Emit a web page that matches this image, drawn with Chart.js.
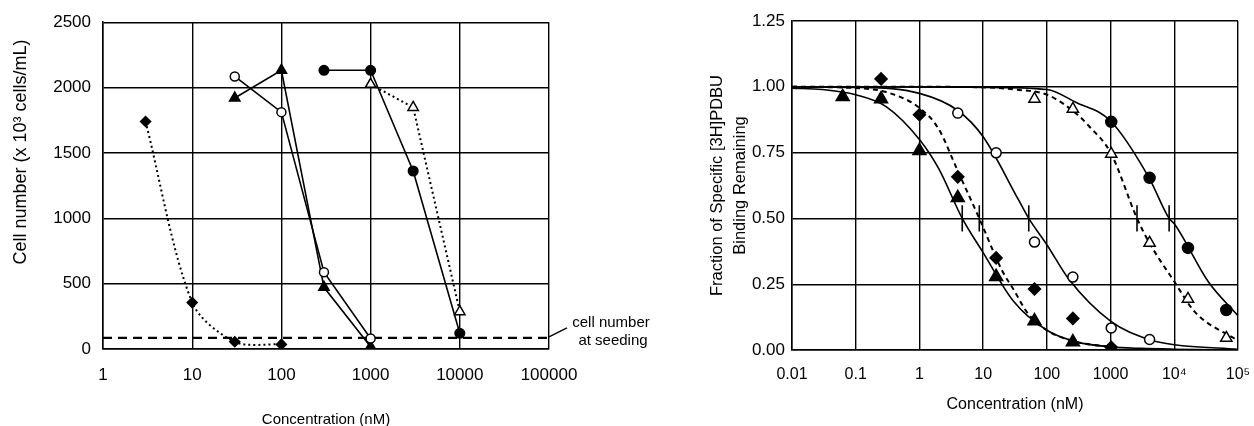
<!DOCTYPE html>
<html>
<head>
<meta charset="utf-8">
<script src="https://cdn.jsdelivr.net/npm/chart.js@4.4.1/dist/chart.umd.min.js"></script>
<style>
    html, body { margin: 0; padding: 0; background: #fff; }
    body { width: 1254px; height: 426px; position: relative; overflow: hidden; }
    .box { position: absolute; top: 0; height: 426px; }
    #box-left { left: 0; width: 660px; }
    #box-right { left: 660px; width: 594px; }
</style>
</head>
<body>
<div class="box" id="box-left"><canvas id="chart-left" width="660" height="426"></canvas></div>
<div class="box" id="box-right"><canvas id="chart-right" width="594" height="426"></canvas></div>
<script>
// ---- left panel: cell number (x 10^3 cells/mL) vs concentration (nM)
const leftTicksX = [1, 10, 100, 1000, 10000, 100000];
const seedingLevel = 85;

const diamondConc = [3, 10, 30, 100];
const diamondCells = [1740, 355, 55, 35];

const openCircleConc = [30, 100, 300, 1000];
const openCircleCells = [2085, 1812, 587, 80];

const filledTriConc = [30, 100, 300, 1000];
const filledTriCells = [1920, 2132, 472, 18];

const filledCircleConc = [300, 1000, 3000, 10000];
const filledCircleCells = [2132, 2132, 1362, 120];

const openTriConc = [1000, 3000, 10000];
const openTriCells = [2025, 1848, 285];

// ---- right panel: fraction of specific [3H]PDBU binding remaining
const rightTicksX = [0.01, 0.1, 1, 10, 100, 1000, 10000, 100000];
const rightTickLabels = ['0.01', '0.1', '1', '10', '100', '1000', '10⁴', '10⁵'];
const ic50Conc = [4.7, 8.7, 52, 2600, 8300];

// measured points
const bTriConc = [0.0625, 0.25, 1, 4, 16, 64, 256];
const bTriFrac = [0.962, 0.954, 0.757, 0.578, 0.278, 0.11, 0.03];

const bDiaConc = [0.25, 1, 4, 16, 64, 256, 1024];
const bDiaFrac = [1.03, 0.894, 0.658, 0.35, 0.232, 0.12, 0.01];

const bOpenCircConc = [4, 16, 64, 256, 1024, 4096];
const bOpenCircFrac = [0.90, 0.749, 0.41, 0.277, 0.084, 0.04];

const bOpenTriConc = [64, 256, 1024, 4096, 16384, 65536];
const bOpenTriFrac = [0.954, 0.916, 0.745, 0.407, 0.194, 0.046];

const bFillCircConc = [1024, 4096, 16384, 65536];
const bFillCircFrac = [0.867, 0.654, 0.388, 0.152];

// fitted curves
const fitTriConc = [0.01, 0.03, 0.1, 0.3, 1, 2, 4.7, 10, 30, 100, 300, 1000, 3000, 10000, 100000];
const fitTriFrac = [0.995, 0.99, 0.97, 0.925, 0.80, 0.69, 0.50, 0.37, 0.185, 0.075, 0.03, 0.012, 0.006, 0.003, 0.0];

const fitDiaConc = [0.01, 0.1, 0.3, 1, 2, 4, 8.7, 20, 30, 50, 100, 300, 1000];
const fitDiaFrac = [1.0, 0.995, 0.98, 0.92, 0.84, 0.68, 0.50, 0.30, 0.23, 0.14, 0.075, 0.03, 0.012];

const fitOpenCircConc = [0.01, 0.1, 1, 4, 10, 36, 52, 100, 220, 1000, 4000, 10000, 100000];
const fitOpenCircFrac = [1.0, 0.998, 0.975, 0.91, 0.81, 0.57, 0.50, 0.40, 0.27, 0.11, 0.04, 0.02, 0.003];

const fitOpenTriConc = [0.01, 1, 10, 30, 100, 300, 460, 1000, 2600, 4000, 10000, 21000, 100000];
const fitOpenTriFrac = [1.0, 1.0, 0.998, 0.99, 0.97, 0.895, 0.85, 0.75, 0.50, 0.41, 0.26, 0.145, 0.035];

const fitFillCircConc = [0.01, 10, 100, 290, 1000, 4000, 8300, 10000, 34000, 100000];
const fitFillCircFrac = [1.0, 0.998, 0.99, 0.94, 0.87, 0.655, 0.50, 0.48, 0.26, 0.13];

const FONT = '"Liberation Sans", Arial, Helvetica, sans-serif';

function pairs(xs, ys) {
    return xs.map((x, i) => ({ x: x, y: ys[i] }));
}

function tickMarks(xs) {
    const out = [];
    xs.forEach(x => {
        out.push({ x: x, y: 0.45 }, { x: x, y: 0.55 }, { x: x, y: null });
    });
    return out;
}

function markers(data, style, fill, radius, lineDash, tension) {
    return {
        data: data,
        showLine: lineDash !== undefined,
        borderColor: '#000',
        borderWidth: lineDash && lineDash.length ? 2 : 1.6,
        borderDash: lineDash || [],
        pointStyle: style,
        pointRadius: radius,
        pointBackgroundColor: fill,
        pointBorderColor: '#000',
        pointBorderWidth: 1.5,
        tension: tension || 0,
    };
}

function curve(data, dashed) {
    return {
        data: data,
        showLine: true,
        borderColor: '#000',
        borderWidth: dashed ? 2 : 1.6,
        borderDash: dashed ? [5, 4] : [],
        pointRadius: 0,
        cubicInterpolationMode: 'monotone',
    };
}

function gridOpts() {
    return { color: '#000', lineWidth: 1.4, drawTicks: false };
}

// the last tick label must not push the plot border inwards
function fixXAxis(height) {
    return scale => {
        scale.height = height;
        scale.paddingLeft = 0;
        scale.paddingRight = 0;
    };
}

// left panel: annotation of the seeding line + y title (sits above centre in the original)
const leftExtras = {
    id: 'leftExtras',
    afterDraw(chart) {
        const { ctx, chartArea, scales } = chart;
        const y = scales.y.getPixelForValue(seedingLevel);
        ctx.save();
        ctx.strokeStyle = '#000';
        ctx.lineWidth = 1.3;
        ctx.beginPath();
        ctx.moveTo(chartArea.right, y - 1);
        ctx.lineTo(chartArea.right + 18, y - 10);
        ctx.stroke();
        ctx.font = '15px ' + FONT;
        ctx.fillStyle = '#000';
        ctx.textAlign = 'center';
        ctx.textBaseline = 'middle';
        ctx.fillText('cell number', chartArea.right + 62, y - 15);
        ctx.fillText('at seeding', chartArea.right + 64, y + 3);

        ctx.translate(21, 152);
        ctx.rotate(-Math.PI / 2);
        ctx.font = '18px ' + FONT;
        ctx.fillText('Cell number (x 10³ cells/mL)', 0, 0);
        ctx.restore();
    },
};

new Chart(document.getElementById('chart-left'), {
    type: 'scatter',
    data: {
        datasets: [
            markers(pairs(diamondConc, diamondCells), 'rectRot', '#000', 5, [2, 3], 0.3),
            markers(pairs(openCircleConc, openCircleCells), 'circle', '#fff', 4.5, []),
            markers(pairs(filledTriConc, filledTriCells), 'triangle', '#000', 6, []),
            markers(pairs(filledCircleConc, filledCircleCells), 'circle', '#000', 4.8, []),
            markers(pairs(openTriConc, openTriCells), 'triangle', '#fff', 6, [2, 3]),
            {
                data: [{ x: 1, y: seedingLevel }, { x: 100000, y: seedingLevel }],
                showLine: true,
                borderColor: '#000',
                borderWidth: 2.4,
                borderDash: [9, 6],
                pointRadius: 0,
            },
        ],
    },
    options: {
        responsive: false,
        animation: false,
        layout: { padding: { top: 21, right: 111, left: 0, bottom: 0 } },
        plugins: { legend: { display: false }, tooltip: { enabled: false } },
        scales: {
            x: {
                type: 'logarithmic',
                min: 1,
                max: 100000,
                afterBuildTicks: scale => { scale.ticks = leftTicksX.map(v => ({ value: v })); },
                afterFit: fixXAxis(77),
                grid: gridOpts(),
                border: { color: '#000', width: 1.5 },
                ticks: {
                    autoSkip: false,
                    maxRotation: 0,
                    padding: 16,
                    color: '#000',
                    font: { family: FONT, size: 17 },
                    callback: value => String(value),
                },
                title: {
                    display: true,
                    text: 'Concentration (nM)',
                    color: '#000',
                    font: { family: FONT, size: 15 },
                    padding: { top: 0, bottom: -3 },
                },
            },
            y: {
                min: 0,
                max: 2500,
                afterFit: scale => { scale.width = 103; },
                grid: gridOpts(),
                border: { color: '#000', width: 1.5 },
                ticks: {
                    stepSize: 500,
                    padding: 12,
                    color: '#000',
                    font: { family: FONT, size: 17 },
                    callback: value => String(value),
                },
                title: { display: false },
            },
        },
    },
    plugins: [leftExtras],
});

new Chart(document.getElementById('chart-right'), {
    type: 'scatter',
    data: {
        datasets: [
            markers(pairs(bTriConc, bTriFrac), 'triangle', '#000', 7.5),
            markers(pairs(bDiaConc, bDiaFrac), 'rectRot', '#000', 6),
            markers(pairs(bOpenCircConc, bOpenCircFrac), 'circle', '#fff', 5),
            markers(pairs(bOpenTriConc, bOpenTriFrac), 'triangle', '#fff', 6.5),
            markers(pairs(bFillCircConc, bFillCircFrac), 'circle', '#000', 5.5),
            {
                data: tickMarks(ic50Conc),
                showLine: true,
                spanGaps: false,
                borderColor: '#000',
                borderWidth: 1.6,
                pointRadius: 0,
            },
            curve(pairs(fitTriConc, fitTriFrac), false),
            curve(pairs(fitDiaConc, fitDiaFrac), true),
            curve(pairs(fitOpenCircConc, fitOpenCircFrac), false),
            curve(pairs(fitOpenTriConc, fitOpenTriFrac), true),
            curve(pairs(fitFillCircConc, fitFillCircFrac), false),
        ],
    },
    options: {
        responsive: false,
        animation: false,
        layout: { padding: { top: 21, right: 16, left: 0, bottom: 0 } },
        plugins: { legend: { display: false }, tooltip: { enabled: false } },
        scales: {
            x: {
                type: 'logarithmic',
                min: 0.01,
                max: 100000,
                afterBuildTicks: scale => { scale.ticks = rightTicksX.map(v => ({ value: v })); },
                afterFit: fixXAxis(76),
                grid: gridOpts(),
                border: { color: '#000', width: 1.5 },
                ticks: {
                    autoSkip: false,
                    maxRotation: 0,
                    padding: 15,
                    color: '#000',
                    font: { family: FONT, size: 16 },
                    callback: value => rightTickLabels[rightTicksX.indexOf(value)],
                },
                title: {
                    display: true,
                    text: 'Concentration (nM)',
                    color: '#000',
                    font: { family: FONT, size: 16 },
                    padding: { top: 0, bottom: 12 },
                },
            },
            y: {
                min: 0,
                max: 1.25,
                afterFit: scale => { scale.width = 132; },
                grid: gridOpts(),
                border: { color: '#000', width: 1.5 },
                ticks: {
                    stepSize: 0.25,
                    padding: 7,
                    color: '#000',
                    font: { family: FONT, size: 17 },
                    callback: value => value.toFixed(2),
                },
                title: {
                    display: true,
                    text: ['Fraction of Specific [3H]PDBU', 'Binding Remaining'],
                    color: '#000',
                    font: { family: FONT, size: 16.5, lineHeight: 1.4 },
                    padding: { top: 46, bottom: 0 },
                },
            },
        },
    },
});
</script>
</body>
</html>
